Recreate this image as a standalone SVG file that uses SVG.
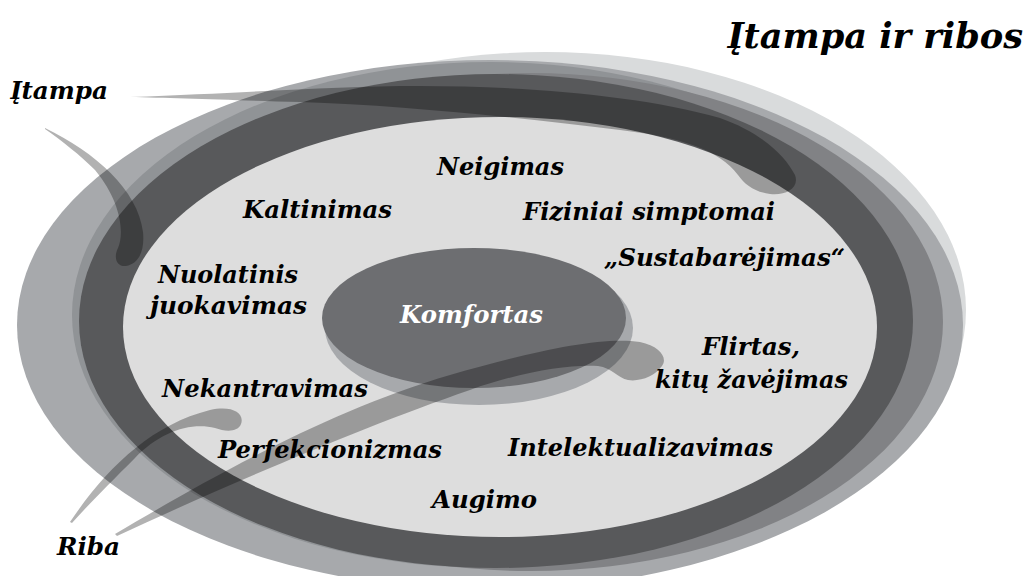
<svg xmlns="http://www.w3.org/2000/svg" width="1033" height="576" viewBox="0 0 1033 576">
  <style>
    .lbl { font-family: "DejaVu Serif", "Liberation Serif", serif; font-weight: bold; font-style: italic; font-size: 24px; fill: #000; }
    .title { font-size: 36px; }
    .light { fill: #ffffff; }
    .tail { fill: #000; fill-opacity: 0.3; }
  </style>
  <rect width="1033" height="576" fill="#ffffff"/>

  <!-- concentric zones -->
  <g id="zones">
    <ellipse cx="545" cy="310" rx="421" ry="258" fill="#d9dbdc"/>
    <ellipse cx="490" cy="325" rx="473" ry="265" fill="#a7a9ac"/>
    <ellipse cx="490" cy="315" rx="418" ry="253" fill="#909396"/>
    <ellipse cx="530" cy="322" rx="413" ry="249" fill="#818285"/>
    <ellipse cx="496" cy="321" rx="417" ry="247" fill="#58595b"/>
    <ellipse cx="500" cy="327" rx="377" ry="210" fill="#dddddd"/>
  </g>

  <!-- comfort core -->
  <g id="komfortas">
    <ellipse cx="479" cy="328" rx="154" ry="77" fill="#a7a9ac"/>
    <ellipse cx="474" cy="318" rx="152" ry="70" fill="#6d6e71"/>
  </g>

  <!-- tapered tension / boundary strokes -->
  <g id="connectors">
    <path class="tail" d="M130,97 C250,93 330,86 420,86 C520,86 640,95 720,118 C760,132 785,155 795,175 C800,188 785,196 770,194 C755,192 745,185 738,175 C720,150 680,137 620,130 C520,118 400,105 300,102 C230,100 170,98 130,97 Z"/>
    <path class="tail" d="M45,128 C95,152 138,190 143,232 C145,252 138,264 126,266 C117,267 113,258 118,248 C125,232 120,200 95,170 C80,155 62,141 45,129 Z"/>
    <path class="tail" d="M70,522 C105,470 150,425 210,410 C232,405 245,413 241,424 C238,432 226,432 215,428 C190,422 160,432 135,458 C110,483 88,505 72,523 Z"/>
    <path class="tail" d="M115,534 C190,490 320,413 450,375 C530,352 600,336 640,342 C660,346 668,358 662,366 C655,376 640,382 628,380 C618,378 612,368 598,366 C570,364 520,372 470,390 C360,428 220,488 117,536 Z"/>
  </g>

  <g id="title"><text class="lbl title" x="727" y="48" textLength="296" lengthAdjust="spacingAndGlyphs">Įtampa ir ribos</text></g>
  <g id="label-itampa"><text class="lbl" x="10" y="99" textLength="98" lengthAdjust="spacingAndGlyphs">Įtampa</text></g>
  <g id="label-riba"><text class="lbl" x="57" y="555" textLength="63" lengthAdjust="spacingAndGlyphs">Riba</text></g>
  <g id="label-komfortas"><text class="lbl light" x="400" y="323" textLength="143" lengthAdjust="spacingAndGlyphs">Komfortas</text></g>
  <g id="n-neigimas"><text class="lbl" x="437" y="175" textLength="127" lengthAdjust="spacingAndGlyphs">Neigimas</text></g>
  <g id="n-kaltinimas"><text class="lbl" x="243" y="218" textLength="149" lengthAdjust="spacingAndGlyphs">Kaltinimas</text></g>
  <g id="n-fiziniai"><text class="lbl" x="523" y="220" textLength="252" lengthAdjust="spacingAndGlyphs">Fiziniai simptomai</text></g>
  <g id="n-sustabarejimas"><text class="lbl" x="604" y="266" textLength="241" lengthAdjust="spacingAndGlyphs">„Sustabarėjimas“</text></g>
  <g id="n-juokavimas">
    <text class="lbl" x="158" y="283" textLength="140" lengthAdjust="spacingAndGlyphs">Nuolatinis</text>
    <text class="lbl" x="150" y="314" textLength="157" lengthAdjust="spacingAndGlyphs">juokavimas</text>
  </g>
  <g id="n-flirtas">
    <text class="lbl" x="702" y="355" textLength="98" lengthAdjust="spacingAndGlyphs">Flirtas,</text>
    <text class="lbl" x="655" y="388" textLength="193" lengthAdjust="spacingAndGlyphs">kitų žavėjimas</text>
  </g>
  <g id="n-nekantravimas"><text class="lbl" x="162" y="397" textLength="206" lengthAdjust="spacingAndGlyphs">Nekantravimas</text></g>
  <g id="n-perfekcionizmas"><text class="lbl" x="218" y="458" textLength="224" lengthAdjust="spacingAndGlyphs">Perfekcionizmas</text></g>
  <g id="n-intelektualizavimas"><text class="lbl" x="508" y="456" textLength="265" lengthAdjust="spacingAndGlyphs">Intelektualizavimas</text></g>
  <g id="n-augimo"><text class="lbl" x="432" y="508" textLength="105" lengthAdjust="spacingAndGlyphs">Augimo</text></g>
</svg>
